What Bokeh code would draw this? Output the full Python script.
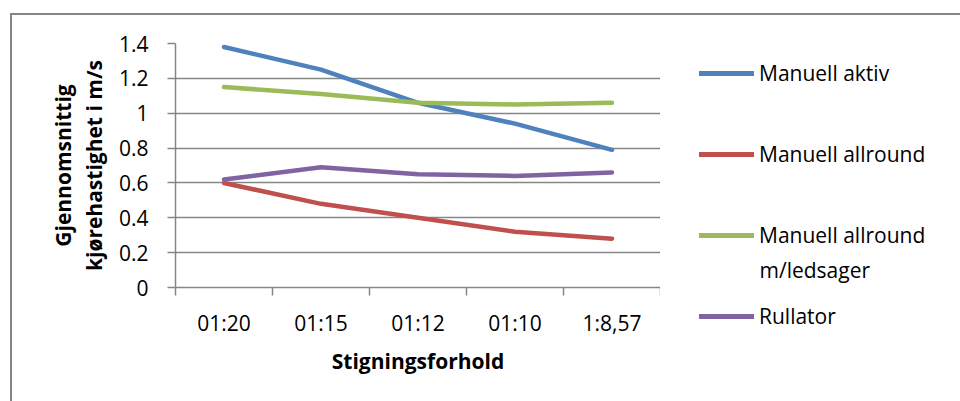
from bokeh.plotting import figure
from bokeh.layouts import row
from bokeh.models import (Legend, LegendItem, Label, FixedTicker, NumeralTickFormatter,
                          Range1d)
from bokeh.embed import file_html
from bokeh.resources import INLINE

categories = ["01:20", "01:15", "01:12", "01:10", "1:8,57"]
manuell_aktiv = [1.38, 1.25, 1.06, 0.94, 0.79]
manuell_allround = [0.60, 0.48, 0.40, 0.32, 0.28]
manuell_ledsager = [1.15, 1.11, 1.06, 1.05, 1.06]
rullator = [0.62, 0.69, 0.65, 0.64, 0.66]
y_ticks = [0, 0.2, 0.4, 0.6, 0.8, 1.0, 1.2, 1.4]

series = [
    ("Manuell aktiv", manuell_aktiv, "#4F81BD"),
    ("Manuell allround", manuell_allround, "#C0504D"),
    ("Manuell allround", manuell_ledsager, "#9BBB59"),
    ("Rullator", rullator, "#8064A2"),
]

FONT = "Open Sans"
TXT = "21px"
GRID = "#868686"
xs = [i + 0.5 for i in range(len(categories))]

H = 386
p = figure(width=648, height=H, output_backend="svg", toolbar_location=None,
           x_range=Range1d(0, len(categories)), y_range=Range1d(0, 1.4),
           min_border_left=163, min_border_right=0, min_border_top=28,
           min_border_bottom=H - 28 - 244)
p.outline_line_color = None
p.frame_align = False

for name, vals, col in series:
    p.line(xs, vals, line_color=col, line_width=4.5, line_cap="round", line_join="round")

p.xaxis.ticker = FixedTicker(ticks=xs, minor_ticks=list(range(len(categories) + 1)))
p.xaxis.major_label_overrides = {x: c for x, c in zip(xs, categories)}
p.xaxis.major_tick_line_color = None
p.xaxis.minor_tick_out = 8
p.xaxis.minor_tick_in = 0
p.xaxis.minor_tick_line_color = GRID
p.xaxis.minor_tick_line_width = 1.5
p.xaxis.major_label_standoff = 13
p.xaxis.axis_label = "Stigningsforhold"
p.xaxis.axis_label_standoff = 7

p.yaxis.ticker = FixedTicker(ticks=y_ticks)
p.yaxis.formatter = NumeralTickFormatter(format="0.[0]")
p.yaxis.major_tick_out = 8
p.yaxis.major_tick_in = 0
p.yaxis.minor_tick_line_color = None
p.yaxis.major_tick_line_color = GRID
p.yaxis.major_tick_line_width = 1.5
p.yaxis.major_label_standoff = 19
p.yaxis.axis_label = "Gjennomsnittig\nkjørehastighet i m/s"
p.yaxis.axis_label_standoff = 8
p.yaxis.axis_label_text_line_height = 1.1

for ax in (p.xaxis[0], p.yaxis[0]):
    ax.axis_line_color = GRID
    ax.axis_line_width = 1.5
    ax.major_label_text_font = FONT
    ax.major_label_text_font_size = TXT
    ax.major_label_text_color = "#000000"
    ax.axis_label_text_font = FONT
    ax.axis_label_text_font_size = "21px"
    ax.axis_label_text_font_style = "bold"
    ax.axis_label_text_color = "#000000"

p.xgrid.grid_line_color = None
p.ygrid.ticker = FixedTicker(ticks=y_ticks)
p.ygrid.grid_line_color = GRID
p.ygrid.grid_line_width = 1.5

# legend panel (separate figure so the legend is not clipped by the chart frame)
LW = 300
q = figure(width=LW, height=H, output_backend="svg", toolbar_location=None,
           x_range=Range1d(-100, -99), y_range=Range1d(-100, -99),
           min_border=0, min_border_left=0, min_border_right=0,
           min_border_top=0, min_border_bottom=0,
           x_axis_type=None, y_axis_type=None)
q.outline_line_color = None
q.frame_align = False
q.grid.visible = False
items = []
for name, vals, col in series:
    r = q.line(xs, vals, line_color=col, line_width=5, line_cap="round")
    items.append(LegendItem(label=name, renderers=[r]))

# legend positioned from the bottom of its panel
legend = Legend(items=items, location=(39, 54 + (H - 370)), padding=0, margin=0, spacing=51,
                glyph_width=55, glyph_height=30, label_height=30, label_standoff=5,
                border_line_alpha=0, background_fill_alpha=0,
                label_text_font=FONT, label_text_font_size=TXT,
                label_text_color="#000000")
q.add_layout(legend)
q.add_layout(Label(x=99, y=116 + (H - 370), x_units="screen", y_units="screen",
                   text="m/ledsager", text_baseline="middle", text_font=FONT,
                   text_font_size=TXT, text_color="#000000"))

root = row(p, q, margin=(13, 0, 0, 10),
           styles={"border-left": "2px solid #868686", "border-top": "2px solid #868686"})

open("out.html", "w").write(file_html(root, INLINE))
